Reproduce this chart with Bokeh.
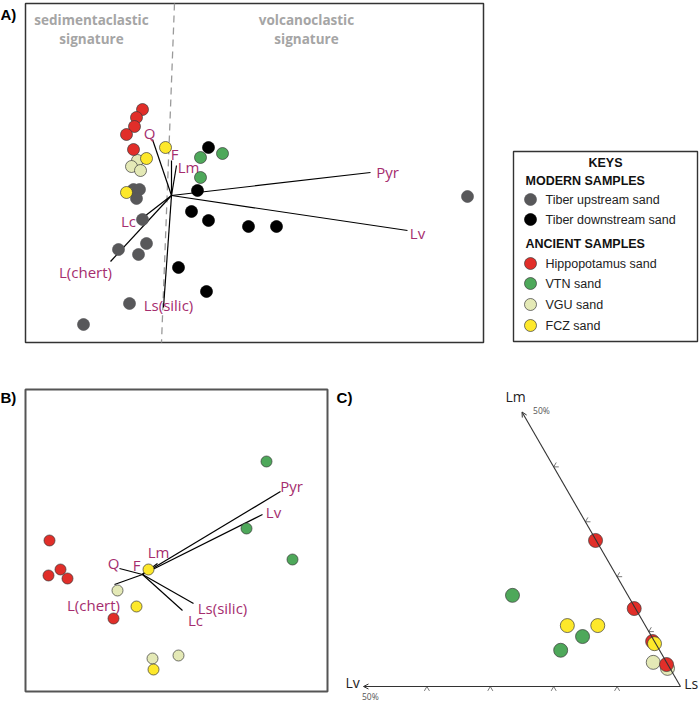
from bokeh.plotting import figure
from bokeh.models import ColumnDataSource, Range1d, Arrow, OpenHead
from bokeh.layouts import row, column
from bokeh.core.properties import value
from bokeh.embed import file_html
from bokeh.resources import INLINE
import numpy as np

# ---------------- data ----------------
series_names = ["Tiber upstream sand", "Tiber downstream sand", "Hippopotamus sand",
                "VTN sand", "VGU sand", "FCZ sand"]
series_colors = ["#58585a", "#000000", "#e12e29", "#4ea85a", "#e4e9b6", "#fde82b"]
series_edges = ["#58585a", "#000000", "#3a3a3a", "#3a3a3a", "#3a3a3a", "#3a3a3a"]

# Panel A : PCA biplot (modern + ancient samples), scores PC1 / PC2
a_up_pc1 = [-0.76, -0.64, -0.70, -0.58, -1.06, -0.50, -0.66, -0.84, -1.76, 5.92]
a_up_pc2 = [0.12, 0.12, -0.06, -0.48, -1.08, -0.96, -1.18, -2.16, -2.58, -0.02]
a_down_pc1 = [0.74, 0.52, 0.40, 0.74, 1.54, 2.10, 0.14, 0.70]
a_down_pc2 = [0.96, 0.10, -0.32, -0.50, -0.62, -0.62, -1.44, -1.92]
a_hip_pc1 = [-0.58, -0.70, -0.74, -0.90, -0.76]
a_hip_pc2 = [1.72, 1.56, 1.38, 1.22, 0.92]
a_vtn_pc1 = [0.58, 1.02, 0.58]
a_vtn_pc2 = [0.76, 0.84, 0.36]
a_vgu_pc1 = [-0.68, -0.80, -0.62]
a_vgu_pc2 = [0.70, 0.58, 0.50]
a_fcz_pc1 = [-0.12, -0.50, -0.90]
a_fcz_pc2 = [0.96, 0.74, 0.06]

a_vars = ["Q", "F", "Lm", "Pyr", "Lv", "Lc", "L(chert)", "Ls(silic)"]
a_load1 = [-0.38, 0.00, 0.10, 3.98, 4.72, -0.62, -1.22, -0.16]
a_load2 = [1.12, 0.70, 0.60, 0.46, -0.70, -0.48, -1.32, -2.24]
a_lab1 = [-0.44, 0.06, 0.34, 4.32, 4.92, -0.86, -1.72, -0.06]
a_lab2 = [1.26, 0.84, 0.58, 0.48, -0.74, -0.50, -1.52, -2.18]
a_box = [-2.92, 6.24, -2.94, 3.84]          # PC1 min/max, PC2 min/max of plot box
a_divider_x = [0.06, -0.20]
a_divider_y = [3.84, -2.94]
a_zone_text = ["sedimentaclastic\nsignature", "volcanoclastic\nsignature"]

# Panel B : PCA biplot (ancient samples only)
b_hip_pc1 = [-1.86, -1.88, -1.64, -1.50, -0.58]
b_hip_pc2 = [0.68, -0.02, 0.10, -0.08, -0.88]
b_vtn_pc1 = [2.48, 2.08, 3.00]
b_vtn_pc2 = [2.26, 0.92, 0.30]
b_vgu_pc1 = [-0.50, 0.20, 0.72]
b_vgu_pc2 = [-0.32, -1.68, -1.62]
b_fcz_pc1 = [0.12, -0.12, 0.22]
b_fcz_pc2 = [0.10, -0.64, -1.90]

b_vars = ["Q", "F", "Lm", "Pyr", "Lv", "Lc", "L(chert)", "Ls(silic)"]
b_load1 = [-0.46, 0.08, 0.30, 2.76, 2.40, 0.80, -0.56, 1.02]
b_load2 = [0.12, 0.08, 0.22, 1.66, 1.20, -0.72, -0.20, -0.58]
b_lab1 = [-0.58, -0.12, 0.32, 2.98, 2.62, 1.06, -0.98, 1.60]
b_lab2 = [0.24, 0.20, 0.46, 1.78, 1.26, -0.90, -0.60, -0.66]
b_box = [-2.34, 3.70, -2.34, 3.70]

# Panel C : Lm - Lv - Ls ternary (percent)
c_hip_lm = [26.6, 14.2, 8.2, 4.0]
c_hip_lv = [0.1, 0.2, 0.3, 0.2]
c_vtn_lm = [16.6, 9.1, 6.6]
c_vtn_lv = [18.2, 10.9, 15.6]
c_vgu_lm = [4.4, 3.3]
c_vgu_lv = [2.1, 0.4]
c_fcz_lm = [11.1, 11.1, 7.8]
c_fcz_lv = [12.3, 7.5, 0.2]
c_axis_max = 50
c_ticks = [10, 20, 30, 40]

# ---------------- styling ----------------
LABEL_COLOR = "#a52d6e"
FONT = "Open Sans"
VFS = "15px"


def base_fig(w, h, xr, yr):
    p = figure(width=w, height=h, x_range=xr, y_range=yr,
               output_backend="svg", toolbar_location=None,
               x_axis_location=None, y_axis_location=None,
               min_border=0, min_border_left=0, min_border_right=0,
               min_border_top=0, min_border_bottom=0,
               background_fill_color="white", border_fill_color="white")
    p.grid.visible = False
    p.outline_line_color = None
    return p


def draw_box(p, box, color, width):
    p.quad(left=[box[0]], right=[box[1]], bottom=[box[2]], top=[box[3]],
           fill_color=None, line_color=color, line_width=width)


def draw_points(p, xs, ys, idx, size):
    p.scatter(xs, ys, size=size, fill_color=series_colors[idx],
              line_color=series_edges[idx], line_width=0.7)


def draw_vectors(p, names, l1, l2, t1, t2):
    p.segment(x0=[0] * len(l1), y0=[0] * len(l1), x1=l1, y1=l2,
              line_color="black", line_width=1.2)
    src = ColumnDataSource(dict(x=t1, y=t2, t=names))
    p.text(x="x", y="y", text="t", source=src, text_font=value(FONT),
           text_font_size=VFS, text_color=LABEL_COLOR,
           text_align="center", text_baseline="middle")


def panel_tag(p, x, y, t):
    p.text(x=[x], y=[y], text=[t], text_font=value("Liberation Sans"),
           text_font_style="bold", text_font_size="15px",
           text_align="left", text_baseline="middle", text_color="black")


# ---------------- Panel A ----------------
pa = base_fig(490, 364, Range1d(-3.42, 6.38), Range1d(-3.38, 3.90))
draw_box(pa, a_box, "#333333", 1.5)
pa.line(a_divider_x, a_divider_y, line_color="#9a9a9a", line_width=1.3, line_dash="7 5")
for zx, txt in zip([-1.6, 2.7], a_zone_text):
    for j, line in enumerate(txt.split("\n")):
        pa.text(x=[zx], y=[3.52 - 0.38 * j], text=[line], text_font=value(FONT),
                text_font_style="bold", text_font_size="13.5px",
                text_color="#a5a5a5", text_align="center", text_baseline="middle")
draw_vectors(pa, a_vars, a_load1, a_load2, a_lab1, a_lab2)
draw_points(pa, a_up_pc1, a_up_pc2, 0, 12)
draw_points(pa, a_down_pc1, a_down_pc2, 1, 12)
draw_points(pa, a_vgu_pc1, a_vgu_pc2, 4, 12)
draw_points(pa, a_hip_pc1, a_hip_pc2, 2, 12)
draw_points(pa, a_vtn_pc1, a_vtn_pc2, 3, 12)
draw_points(pa, a_fcz_pc1, a_fcz_pc2, 5, 12)
panel_tag(pa, -3.42, 3.62, "A)")

# ---------------- Legend ----------------
pl = base_fig(210, 364, Range1d(490, 700), Range1d(364, 0))
pl.quad(left=[513], right=[697], top=[151], bottom=[341],
        fill_color="white", line_color="#333333", line_width=1.4)
pl.text(x=[605], y=[162], text=["KEYS"], text_font=value("Liberation Sans"),
        text_font_style="bold", text_font_size="12.5px",
        text_align="center", text_baseline="middle", text_color="#111111")
for t, yy in [("MODERN SAMPLES", 180), ("ANCIENT SAMPLES", 243)]:
    pl.text(x=[525], y=[yy], text=[t], text_font=value("Liberation Sans"),
            text_font_style="bold", text_font_size="12.5px",
            text_align="left", text_baseline="middle", text_color="#111111")
row_y = [199, 219, 263, 283, 304, 325]
for i, name in enumerate(series_names):
    pl.scatter([530], [row_y[i]], size=12, fill_color=series_colors[i],
               line_color=series_edges[i], line_width=0.7)
    pl.text(x=[545], y=[row_y[i]], text=[name], text_font=value("Liberation Sans"),
            text_font_size="12.5px", text_align="left",
            text_baseline="middle", text_color="#222222")

# ---------------- Panel B ----------------
pb = base_fig(330, 339, Range1d(-2.84, 3.76), Range1d(-2.58, 4.20))
draw_box(pb, b_box, "#555555", 2)
draw_vectors(pb, b_vars, b_load1, b_load2, b_lab1, b_lab2)
draw_points(pb, b_hip_pc1, b_hip_pc2, 2, 11)
draw_points(pb, b_vtn_pc1, b_vtn_pc2, 3, 11)
draw_points(pb, b_vgu_pc1, b_vgu_pc2, 4, 11)
draw_points(pb, b_fcz_pc1, b_fcz_pc2, 5, 11)
panel_tag(pb, -2.84, 3.54, "B)")

# ---------------- Panel C (ternary) ----------------
pc = base_fig(370, 339, Range1d(-1.1041, 0.0631), Range1d(-0.0536, 1.0158))
S3 = np.sqrt(3) / 2


def tern(lm, lv):
    lm = np.asarray(lm, float) / c_axis_max
    lv = np.asarray(lv, float) / c_axis_max
    return -lv - 0.5 * lm, S3 * lm


lm_end = tern([c_axis_max], [0])
lv_end = tern([0], [c_axis_max])
for ex, ey in (lm_end, lv_end):
    pc.add_layout(Arrow(end=OpenHead(size=5, line_width=1, line_color="#333333"),
                        x_start=0, y_start=0, x_end=float(ex[0]), y_end=float(ey[0]),
                        line_color="#333333", line_width=1.1))
tl = 0.016
bx, by = tern([0] * len(c_ticks), c_ticks)
for dx, dy in ((0.5, -S3), (-0.5, -S3)):
    pc.segment(x0=bx, y0=by, x1=bx + dx * tl, y1=by + dy * tl, line_color="#555555", line_width=0.8)
mx, my = tern(c_ticks, [0] * len(c_ticks))
for dx, dy in ((1.0, 0.0), (0.5, S3)):
    pc.segment(x0=mx, y0=my, x1=mx + dx * tl, y1=my + dy * tl, line_color="#555555", line_width=0.8)

for lm, lv, idx in ((c_vgu_lm, c_vgu_lv, 4), (c_vtn_lm, c_vtn_lv, 3),
                    (c_hip_lm, c_hip_lv, 2), (c_fcz_lm, c_fcz_lv, 5)):
    x, y = tern(lm, lv)
    pc.scatter(x, y, size=14, fill_color=series_colors[idx],
               line_color=series_edges[idx], line_width=0.7)

corner = dict(text_font=value(FONT), text_font_size="14px",
              text_color="#222222", text_baseline="middle")
pc.text(x=[float(lm_end[0][0]) - 0.02], y=[float(lm_end[1][0]) + 0.05], text=["Lm"], text_align="center", **corner)
pc.text(x=[0.012], y=[0.008], text=["Ls"], text_align="left", **corner)
pc.text(x=[float(lv_end[0][0]) - 0.012], y=[0.012], text=["Lv"], text_align="right", **corner)
small = dict(text_font=value(FONT), text_font_size="8.5px",
             text_color="#555555", text_baseline="middle", text_align="left")
pc.text(x=[float(lm_end[0][0]) + 0.035], y=[float(lm_end[1][0]) + 0.005], text=["50%"], **small)
pc.text(x=[float(lv_end[0][0]) - 0.005], y=[-0.033], text=["50%"], **small)
pc.text(x=[-1.085], y=[0.912], text=["C)"], text_font=value("Liberation Sans"),
        text_font_style="bold", text_font_size="15px",
        text_align="left", text_baseline="middle", text_color="black")

layout = column(row(pa, pl, spacing=0), row(pb, pc, spacing=0), spacing=0)
open("out.html", "w").write(file_html(layout, INLINE))
